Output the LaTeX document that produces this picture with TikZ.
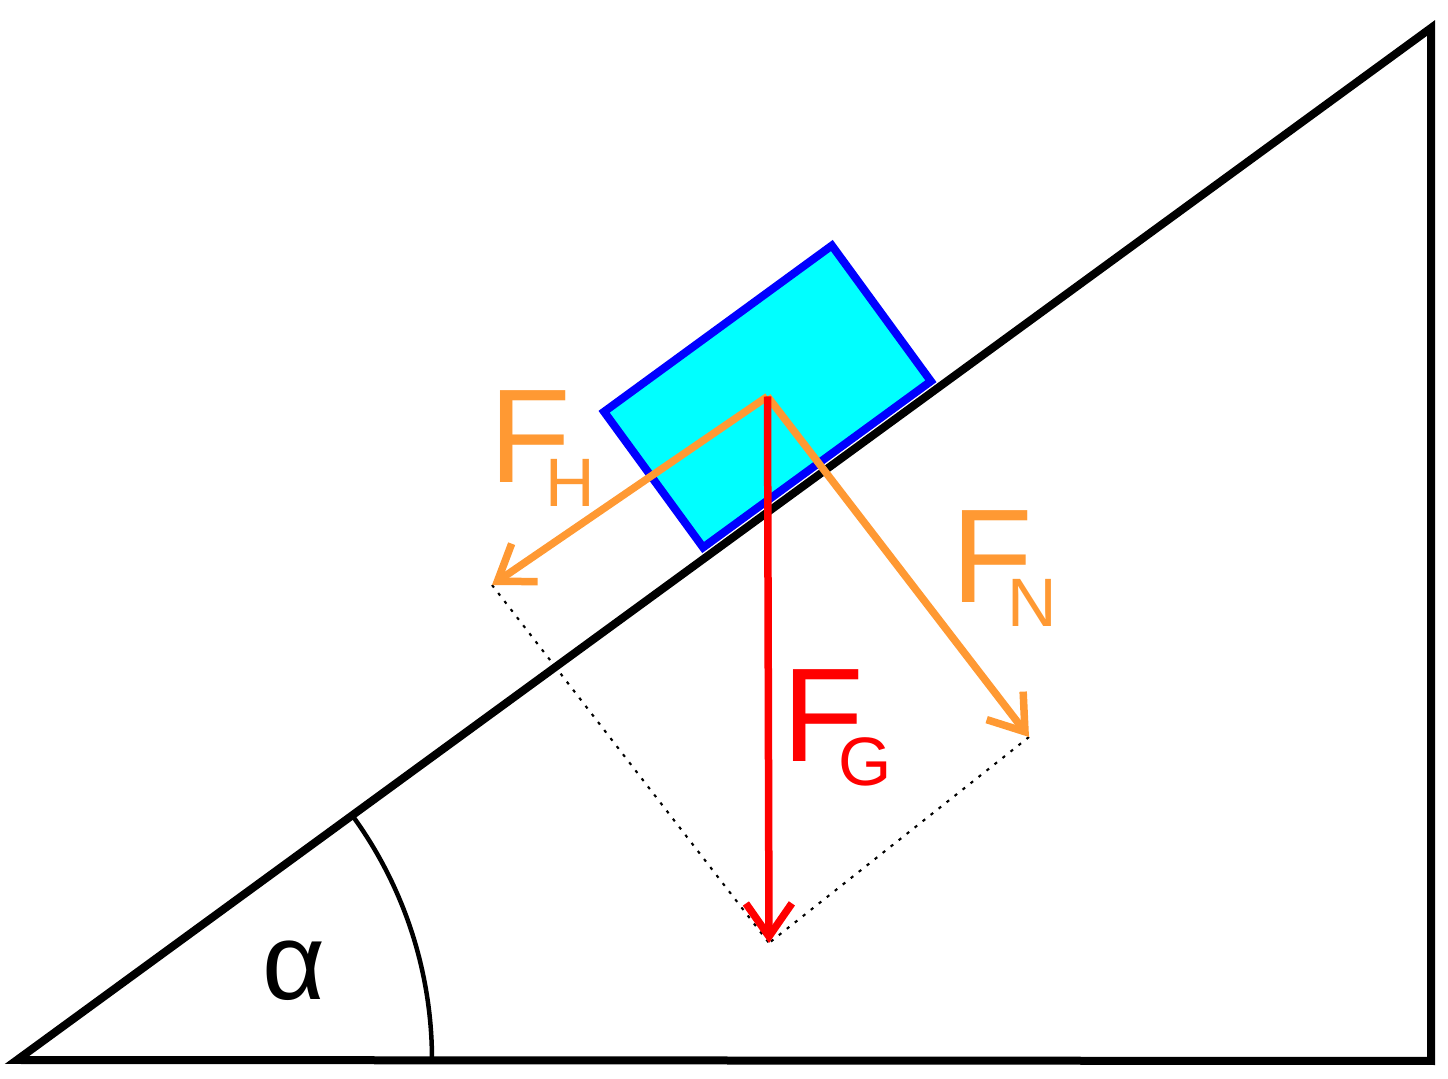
\documentclass[tikz,border=0pt]{standalone}
\usepackage{fontspec}
\setmainfont{Liberation Sans}
\usepackage{xcolor}
\usetikzlibrary{arrows.meta, positioning, calc}
\definecolor{forceorange}{RGB}{255,153,51}
\definecolor{blockcyan}{RGB}{0,255,255}
\definecolor{blockblue}{RGB}{0,0,255}
\definecolor{forcered}{RGB}{255,0,0}
\newcommand{\flabel}[1]{F\kern-0.19em\raisebox{-6.8pt}{\fontsize{19.5}{19.5}\selectfont #1}}

\begin{document}
\begin{tikzpicture}[
    ground/.style={line width=0.08cm, black},
    blockbox/.style={rectangle, draw=blockblue, fill=blockcyan, line width=0.08cm, minimum width=2.82cm, minimum height=1.68cm, inner sep=0pt},
    force/.style={line width=0.075cm, -{Straight Barb[length=3.3mm, width=4.6mm]}},
    helper/.style={black, line width=0.6pt, dash pattern=on 0.9pt off 2pt},
    flab/.style={font=\fontsize{38}{38}\selectfont, inner sep=0pt, anchor=base west}
]
\useasboundingbox (0,0) rectangle (14.48,10.79);

% Incline
\coordinate (a) at (0.17,0.19);
\coordinate (b) at (14.31,0.18);
\coordinate (c) at (14.31,10.51);
\draw[ground] (a) -- (b) -- (c) -- cycle;

% Angle
\draw[line width=0.045cm] ($(a)+(4.15,0)$) arc[start angle=0, end angle=36.12, radius=4.15];
\node[font=\fontsize{31}{31}\selectfont, inner sep=0pt] (alpha) at (2.935,1.08) {α};

% Block
\node[blockbox, rotate=36.12] (block) at (7.675,6.825) {};

% Force tips
\coordinate (h) at (4.92,4.94);
\coordinate (n) at (10.29,3.42);
\coordinate (g) at (7.69,1.36);

% Parallelogram
\draw[helper] (h) -- (g);
\draw[helper] (n) -- (g);

% Forces
\draw[force, forceorange] (block.center) -- (h);
\draw[force, forceorange] (block.center) -- (n);
\draw[force, forcered] (block.center) -- (g);

% Labels
\node[flab, text=forceorange] (fh) at (4.89,5.96) {\flabel{H}};
\node[flab, text=forceorange] (fn) at (9.51,4.76) {\flabel{N}};
\node[flab, text=forcered] (fg) at (7.82,3.17) {\flabel{G}};

\end{tikzpicture}
\end{document}
